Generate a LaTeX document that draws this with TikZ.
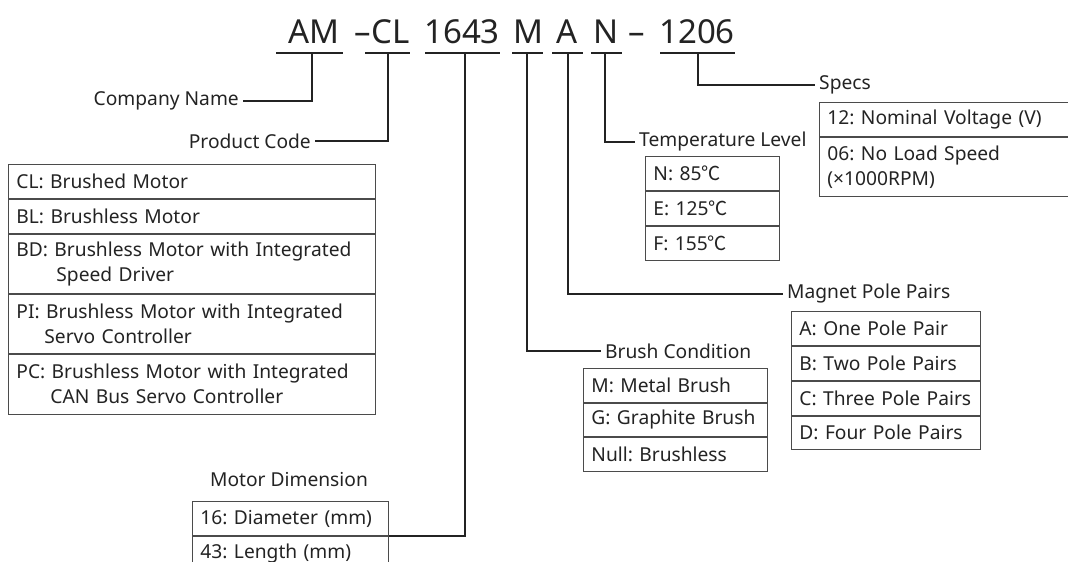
\documentclass[tikz,border=0pt]{standalone}
\usepackage{fontspec}
\setmainfont{Noto Sans}
\newfontfamily\cjk{Noto Sans CJK SC}
\newcommand{\degc}{{\cjk ℃}}
\usetikzlibrary{positioning}
\definecolor{inkgray}{RGB}{35,35,35}
\definecolor{rulegray}{RGB}{75,75,75}

\begin{document}
\begin{tikzpicture}[x=1pt,y=-1pt,every node/.style={font=\fontsize{19.2}{25}\selectfont\frenchspacing,text=inkgray},
title/.style={font=\fontsize{33}{40}\selectfont,anchor=base,inner sep=0pt},
tag/.style={inner xsep=4pt,inner ysep=0pt},
row/.style={draw=rulegray,line width=0.9pt,anchor=north west,align=left,inner xsep=8pt,inner ysep=0pt,minimum height=#1},
row/.default=34,
uline/.style={line width=1.2pt,draw=inkgray},
link/.style={line width=1.3pt,draw=inkgray}]
\useasboundingbox (0,0) rectangle (1068,562);
\clip (0,0) rectangle (1068,562);
\node[title] (tAM) at (314,43) {AM};
\node[title] (tCL) at (382,43) {–CL};
\node[title] (tDim) at (462,43) {1643};
\node[title] (tM) at (528,43) {M};
\node[title] (tA) at (567,43) {A};
\node[title] (tN) at (606,43) {N};
\node[title] (tDash) at (637,43) {–};
\node[title] (tSpec) at (697,43) {1206};
\foreach \a/\b in {276/343,365/410,425/500,512/543,552/583,591/622,660/735}
  \draw[uline] (\a,53) -- (\b,53);
\coordinate (kAM) at (312,53);
\coordinate (kCL) at (388,53);
\coordinate (kDim) at (465,53);
\coordinate (kM) at (527,53);
\coordinate (kA) at (568,53);
\coordinate (kN) at (605,53);
\coordinate (kSpec) at (698,53);
\node[tag,anchor=east] (company) at (243,101) {Company Name};
\node[tag,anchor=east] (product) at (315,141) {Product Code};
\node[tag,anchor=west] (specs) at (815,85) {Specs};
\node[tag,anchor=west] (temp) at (635,142) {Temperature Level};
\node[tag,anchor=west] (magnet) at (783,294) {Magnet Pole Pairs};
\node[tag,anchor=west] (brush) at (601,351) {Brush Condition};
\node[tag] (motordim) at (289,480) {Motor Dimension};
\node[row,text width=351pt] (cl) at (8,164) {CL: Brushed Motor};
\node[row,text width=351pt,below=0pt of cl] (bl) {BL: Brushless Motor};
\node[row=59,text width=351pt,below=0pt of bl] (bd) {BD: Brushless Motor with Integrated\\\hspace*{40pt}Speed Driver};
\node[row=59,text width=351pt,below=0pt of bd] (pi) {PI: Brushless Motor with Integrated\\\hspace*{28pt}Servo Controller};
\node[row=60,text width=351pt,below=0pt of pi] (pc) {PC: Brushless Motor with Integrated\\\hspace*{34pt}CAN Bus Servo Controller};
\node[row,text width=255pt] (sp1) at (819,102) {12: Nominal Voltage (V)};
\node[row=59,text width=255pt,below=0pt of sp1] (sp2) {06: No Load Speed\\(×1000RPM)};
\node[row,text width=118pt] (tp1) at (645,156) {N: 85\degc};
\node[row,text width=118pt,below=0pt of tp1] (tp2) {E: 125\degc};
\node[row,text width=118pt,below=0pt of tp2] (tp3) {F: 155\degc};
\node[row,text width=173pt] (mg1) at (791,311) {A: One Pole Pair};
\node[row,text width=173pt,below=0pt of mg1] (mg2) {B: Two Pole Pairs};
\node[row,text width=173pt,below=0pt of mg2] (mg3) {C: Three Pole Pairs};
\node[row=33,text width=173pt,below=0pt of mg3] (mg4) {D: Four Pole Pairs};
\node[row,text width=168pt] (br1) at (583,368) {M: Metal Brush};
\node[row=33,text width=168pt,below=0pt of br1] (br2) {G: Graphite Brush};
\node[row,text width=168pt,below=0pt of br2] (br3) {Null: Brushless};
\node[row,text width=180pt] (dm1) at (192,501) {16: Diameter (mm)};
\node[row,text width=180pt,below=0pt of dm1] (dm2) {43: Length (mm)};
\draw[link] (kAM) |- (company.east);
\draw[link] (kCL) |- (product.east);
\draw[link] (kDim) |- (dm1.south east);
\draw[link] (kM) |- (brush.west);
\draw[link] (kA) |- (magnet.west);
\draw[link] (kN) |- (temp.west);
\draw[link] (kSpec) |- (specs.west);
\end{tikzpicture}
\end{document}
